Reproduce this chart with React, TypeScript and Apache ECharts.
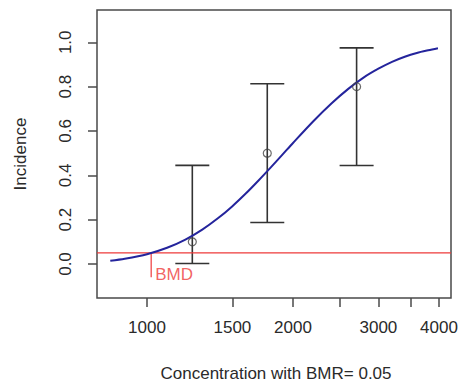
import React, { useEffect, useRef } from "react";
import * as echarts from "echarts";

// Observed dose groups: incidence with exact binomial confidence limits
const doseLevels = [1240, 1770, 2705];
const incidence = [0.1, 0.5, 0.8];
const ciLower = [0.0025, 0.187, 0.444];
const ciUpper = [0.445, 0.813, 0.975];

// Fitted dose-response curve
const fitDose = [840, 900, 1000, 1100, 1200, 1300, 1400, 1500, 1600, 1700, 1800, 1900, 2000, 2200, 2400, 2600, 2800, 3000, 3200, 3400, 3600, 3800, 3980];
const fitIncidence = [0.015, 0.024, 0.044, 0.073, 0.11, 0.155, 0.206, 0.261, 0.319, 0.378, 0.436, 0.492, 0.546, 0.643, 0.724, 0.79, 0.842, 0.881, 0.912, 0.935, 0.952, 0.964, 0.973];

// Benchmark response and dose
const bmr = 0.05;
const bmd = 1020;
const bmdLineBottom = -0.06;

// Axis ticks
const xTicks = [1000, 1500, 2000, 2500, 3000, 3500, 4000];
const xTickLabels = [1000, 1500, 2000, 3000, 4000];
const yTicks = [0, 0.2, 0.4, 0.6, 0.8, 1.0];

const X_MIN = 2.8969; // log10 of the axis range
const X_MAX = 3.6268;

const FONT = "'Liberation Sans', Arial, Helvetica, sans-serif";
const FS = 17;
const INK = "#2a2a2a";
const RED = "#ee3a3a";
const lg = (v: number) => Math.log10(v);

export default function App() {
  const ref = useRef<HTMLDivElement>(null);

  useEffect(() => {
    if (!ref.current) return;
    const chart = echarts.init(ref.current, undefined, { renderer: "svg" });

    const option: any = {
      animation: false,
      backgroundColor: "#ffffff",
      textStyle: { fontFamily: FONT },
      grid: {
        left: 97,
        top: 10,
        right: 9,
        bottom: 91,
        show: true,
        borderColor: "#4a4a4a",
        borderWidth: 1.5,
        backgroundColor: "transparent",
        outerBoundsMode: "none",
      },
      xAxis: {
        type: "value",
        min: X_MIN,
        max: X_MAX,
        axisLine: { show: false, onZero: false },
        splitLine: { show: false },
        axisTick: {
          show: true,
          length: 9,
          customValues: xTicks.map(lg),
          lineStyle: { color: "#4a4a4a", width: 1.5 },
        },
        axisLabel: {
          show: true,
          customValues: xTickLabels.map(lg),
          formatter: (v: number) => String(Math.round(Math.pow(10, v) / 10) * 10),
          margin: 21,
          fontSize: FS,
          color: INK,
          fontFamily: FONT,
        },
      },
      yAxis: {
        type: "value",
        min: -0.1534,
        max: 1.1457,
        axisLine: { show: false, onZero: false },
        splitLine: { show: false },
        axisTick: {
          show: true,
          length: 9,
          customValues: yTicks,
          lineStyle: { color: "#4a4a4a", width: 1.5 },
        },
        axisLabel: {
          show: true,
          customValues: yTicks,
          rotate: 90,
          formatter: (v: number) => v.toFixed(1),
          margin: 23,
          fontSize: FS,
          color: INK,
          fontFamily: FONT,
        },
      },
      graphic: [
        {
          type: "text",
          x: 20,
          y: 154,
          rotation: Math.PI / 2,
          style: {
            text: "Incidence",
            fontSize: FS,
            fontFamily: FONT,
            fill: INK,
            align: "center",
            verticalAlign: "middle",
          },
        },
        {
          type: "text",
          x: 276,
          y: 373,
          style: {
            text: "Concentration with BMR= 0.05",
            fontSize: FS,
            fontFamily: FONT,
            fill: INK,
            align: "center",
            verticalAlign: "middle",
          },
        },
      ],
      series: [
        {
          // benchmark response level across the plot
          type: "line",
          data: [
            [X_MIN, bmr],
            [X_MAX, bmr],
          ],
          showSymbol: false,
          symbol: "none",
          lineStyle: { color: RED, width: 1.2 },
          silent: true,
        },
        {
          // benchmark dose drop line
          type: "line",
          data: [
            [lg(bmd), bmr],
            [lg(bmd), bmdLineBottom],
          ],
          showSymbol: false,
          symbol: "none",
          lineStyle: { color: RED, width: 1.2 },
          silent: true,
        },
        {
          // benchmark dose label
          type: "scatter",
          data: [[lg(bmd), bmdLineBottom]],
          symbolSize: 0,
          label: {
            show: true,
            formatter: "BMD",
            position: "right",
            distance: 4,
            offset: [0, -3],
            color: RED,
            fontSize: FS,
            fontFamily: FONT,
          },
          silent: true,
        },
        {
          type: "line",
          data: fitDose.map((d, i) => [lg(d), fitIncidence[i]]),
          showSymbol: false,
          symbol: "none",
          smooth: 0.3,
          lineStyle: { color: "#24249c", width: 2 },
          silent: true,
        },
        {
          type: "custom",
          data: doseLevels.map((d, i) => [lg(d), ciLower[i], ciUpper[i]]),
          encode: { x: 0, y: [1, 2] },
          silent: true,
          renderItem: (_params: any, api: any) => {
            const x = api.value(0);
            const top = api.coord([x, api.value(2)]);
            const bot = api.coord([x, api.value(1)]);
            const half = 17;
            const style = { stroke: "#333333", lineWidth: 1.6 };
            return {
              type: "group",
              children: [
                { type: "line", shape: { x1: top[0], y1: top[1], x2: bot[0], y2: bot[1] }, style },
                { type: "line", shape: { x1: top[0] - half, y1: top[1], x2: top[0] + half, y2: top[1] }, style },
                { type: "line", shape: { x1: bot[0] - half, y1: bot[1], x2: bot[0] + half, y2: bot[1] }, style },
              ],
            };
          },
        },
        {
          type: "scatter",
          data: doseLevels.map((d, i) => [lg(d), incidence[i]]),
          symbol: "circle",
          symbolSize: 8,
          itemStyle: { color: "transparent", borderColor: "#444444", borderWidth: 1.2 },
          silent: true,
          z: 5,
        },
      ],
    };

    chart.setOption(option);
    return () => chart.dispose();
  }, []);

  return (
    <div
      ref={ref}
      style={{ position: "fixed", left: 0, top: 0, width: 460, height: 389, background: "#fff" }}
    />
  );
}
